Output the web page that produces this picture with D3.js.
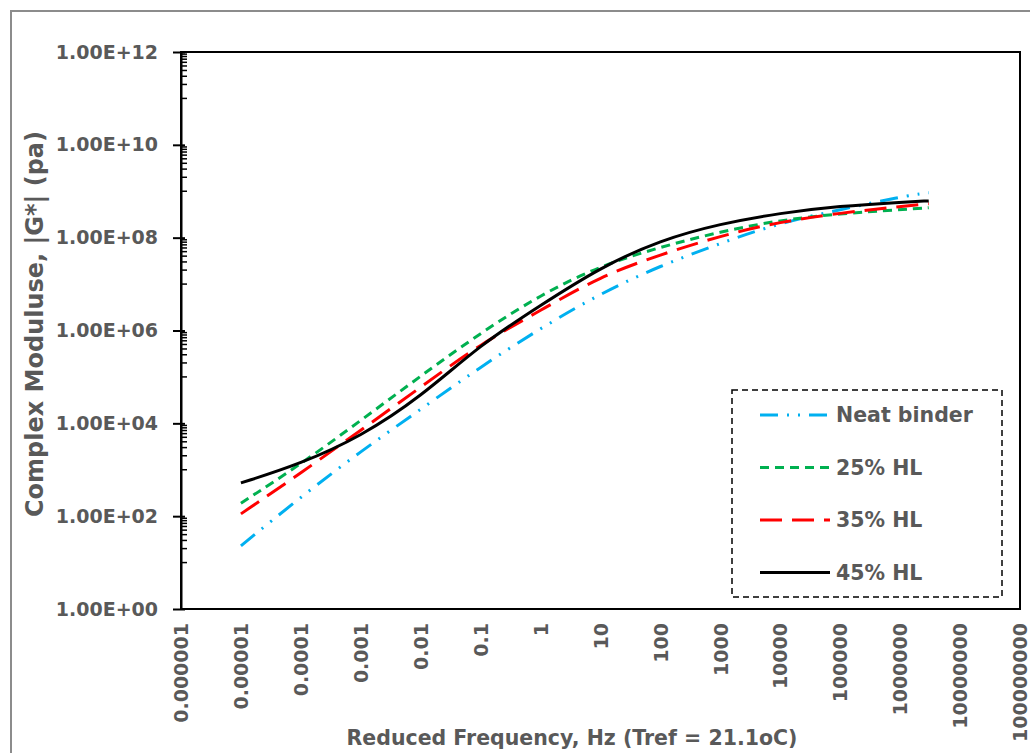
<!DOCTYPE html>
<html><head><meta charset="utf-8">
<script src="https://cdn.jsdelivr.net/npm/d3@7"></script>
<style>
html,body{margin:0;padding:0;background:#fff;}
svg{display:block;}
text{font-family:"DejaVu Sans",sans-serif;font-weight:bold;fill:#595959;}
</style></head>
<body>
<svg id="chart" width="1030" height="753"></svg>
<script>
// ---- data ----
const frequencies = [0.00001, 0.0001, 0.001, 0.01, 0.1, 1, 10, 100, 1000, 10000, 100000, 1000000, 3000000];
const neatBinder = [2.3e1, 2.6e2, 2.5e3, 2.0e4, 1.66e5, 1.12e6, 6.3e6, 2.5e7, 7.6e7, 2.1e8, 4.0e8, 7.6e8, 9.3e8];
const hl25 = [1.9e2, 1.32e3, 1.15e4, 1.05e5, 8.9e5, 5.9e6, 2.5e7, 6.3e7, 1.35e8, 2.4e8, 3.3e8, 4.0e8, 4.4e8];
const hl35 = [1.12e2, 8.5e2, 7.1e3, 6.0e4, 5.2e5, 2.7e6, 1.48e7, 4.3e7, 1.1e8, 2.2e8, 3.4e8, 4.7e8, 5.4e8];
const hl45 = [5.2e2, 1.35e3, 5.2e3, 3.7e4, 5.0e5, 3.5e6, 2.3e7, 8.9e7, 2.0e8, 3.4e8, 4.8e8, 5.8e8, 6.2e8];
const seriesNames = ["Neat binder", "25% HL", "35% HL", "45% HL"];
const xTickValues = [1e-6, 1e-5, 1e-4, 1e-3, 1e-2, 1e-1, 1, 10, 100, 1000, 10000, 100000, 1000000, 10000000, 100000000];
const xTickLabels = ["0.000001","0.00001","0.0001","0.001","0.01","0.1","1","10","100","1000","10000","100000","1000000","10000000","100000000"];
const yTickValues = [1e0, 1e2, 1e4, 1e6, 1e8, 1e10, 1e12];
const yTickLabels = ["1.00E+00","1.00E+02","1.00E+04","1.00E+06","1.00E+08","1.00E+10","1.00E+12"];
const xTitle = "Reduced Frequency, Hz (Tref = 21.1oC)";
const yTitle = "Complex Moduluse, |G*| (pa)";

// ---- styles ----
const styles = [
  {color:"#00B0F0", dash:"18,9,2,9,2,9"},
  {color:"#00B050", dash:"9,6"},
  {color:"#FF0000", dash:"22,10"},
  {color:"#000000", dash:null}
];
const allSeries = [neatBinder, hl25, hl35, hl45];

const svg = d3.select("#chart");
const W = 1030, H = 753;
const plot = {left:181, top:52, right:1020, bottom:609};

// outer frame
svg.append("rect").attr("x",11).attr("y",11).attr("width",W+10).attr("height",H+10)
  .attr("fill","none").attr("stroke","#8c8c8c").attr("stroke-width",2);

const x = d3.scaleLog().domain([1e-6, 1e8]).range([plot.left, plot.right]);
const y = d3.scaleLog().domain([1e0, 1e12]).range([plot.bottom, plot.top]);

// plot box
svg.append("rect").attr("x",plot.left).attr("y",plot.top)
  .attr("width",plot.right-plot.left).attr("height",plot.bottom-plot.top)
  .attr("fill","none").attr("stroke","#000").attr("stroke-width",2);

// y axis
const yAxis = d3.axisLeft(y).tickValues(yTickValues)
  .tickFormat((d,i)=>yTickLabels[i]).tickSizeInner(8).tickSizeOuter(0).tickPadding(15);
const gy = svg.append("g").attr("transform",`translate(${plot.left},0)`).call(yAxis);
gy.select(".domain").attr("stroke","#000").attr("stroke-width",2);
gy.selectAll(".tick line").attr("stroke","#000").attr("stroke-width",2).attr("x2",-8).attr("x1",4);
gy.selectAll(".tick text").style("font-size","19px").style("font-family","DejaVu Sans").style("font-weight","bold").attr("fill","#595959");

// minor ticks (j * 10^(2k+1))
const minor = [];
for (let k = 0; k < 6; k++) {
  for (let j = 1; j <= 9; j++) minor.push(j * Math.pow(10, 2*k+1));
}
svg.append("g").selectAll("line").data(minor).join("line")
  .attr("x1",plot.left).attr("x2",plot.left+6)
  .attr("y1",d=>y(d)).attr("y2",d=>y(d))
  .attr("stroke","#000").attr("stroke-width",1.5);

// x axis labels (no ticks)
const xAxis = d3.axisBottom(x).tickValues(xTickValues)
  .tickFormat((d,i)=>xTickLabels[i]).tickSize(0).tickPadding(0);
const gx = svg.append("g").attr("transform",`translate(0,${plot.bottom})`).call(xAxis);
gx.select(".domain").remove();
gx.selectAll(".tick text")
  .style("font-size","19px").style("font-family","DejaVu Sans").style("font-weight","bold").attr("fill","#595959")
  .attr("text-anchor","end").attr("dy","0.35em")
  .attr("transform","translate(0,14) rotate(-90)").attr("x",0).attr("y",0);

// lines
const line = d3.line().x((d,i)=>x(frequencies[i])).y(d=>y(d)).curve(d3.curveBasis);
allSeries.forEach((s,i)=>{
  svg.append("path").datum(s).attr("d",line)
    .attr("fill","none").attr("stroke",styles[i].color).attr("stroke-width",3)
    .attr("stroke-dasharray",styles[i].dash).attr("stroke-linecap","butt")
    .attr("stroke-linejoin","round");
});

// legend
const lg = svg.append("g");
lg.append("rect").attr("x",732).attr("y",390).attr("width",270).attr("height",207)
  .attr("fill","#fff").attr("stroke","#000").attr("stroke-width",1.5).attr("stroke-dasharray","6,4");
seriesNames.forEach((n,i)=>{
  const yy = 415 + i*52.5;
  lg.append("line").attr("x1",760).attr("x2",830).attr("y1",yy).attr("y2",yy)
    .attr("stroke",styles[i].color).attr("stroke-width",3).attr("stroke-dasharray",styles[i].dash);
  lg.append("text").attr("x",836).attr("y",yy).attr("dy","0.35em")
    .style("font-size","20.5px").text(n);
});

// titles
svg.append("text").attr("x",572).attr("y",745)
  .attr("text-anchor","middle").style("font-size","20.5px").text(xTitle);
svg.append("text").attr("transform","translate(43,324) rotate(-90)")
  .attr("text-anchor","middle").style("font-size","24px").text(yTitle);
</script>
</body></html>
